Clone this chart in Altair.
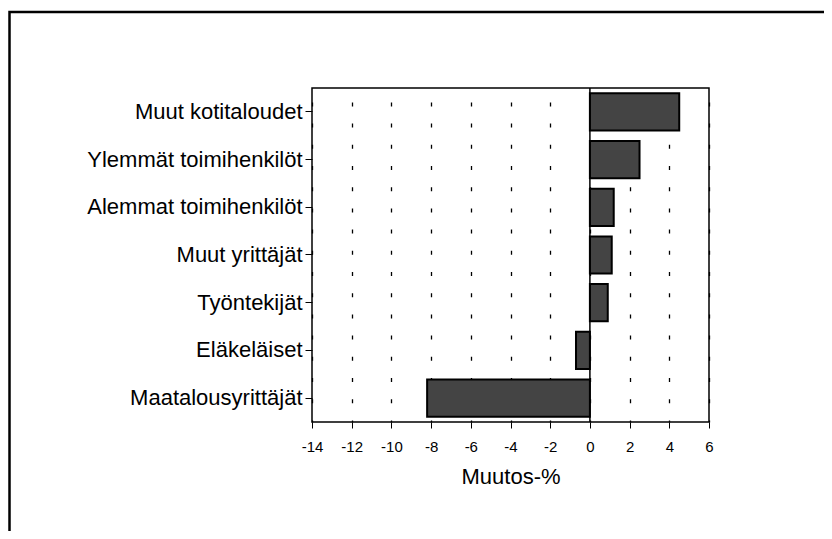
import altair as alt
import pandas as pd

categories = ["Muut kotitaloudet", "Ylemmät toimihenkilöt", "Alemmat toimihenkilöt",
              "Muut yrittäjät", "Työntekijät", "Eläkeläiset", "Maatalousyrittäjät"]
values = [4.5, 2.5, 1.2, 1.1, 0.9, -0.7, -8.2]
x_ticks = [-14, -12, -10, -8, -6, -4, -2, 0, 2, 4, 6]
zero_line = [0]
x_title = "Muutos-%"

df = pd.DataFrame({"group": categories, "change": values})
zero_df = pd.DataFrame({"x": zero_line})
frame_df = pd.DataFrame({"frame": [0]})

FONT = "Liberation Sans"

bars = alt.Chart(df).mark_bar(
    color="#444444", stroke="black", strokeWidth=2
).encode(
    y=alt.Y("group:N", sort=categories,
            scale=alt.Scale(paddingInner=0.22, paddingOuter=0.11),
            axis=alt.Axis(title=None, labelFontSize=22, labelFont=FONT, labelColor="black",
                          tickSize=7, tickColor="black", labelPadding=3, domain=False,
                          grid=False, labelLimit=400)),
    x=alt.X("change:Q", scale=alt.Scale(domain=[-14, 6], nice=False),
            axis=alt.Axis(values=x_ticks, tickCount=len(x_ticks) + 5,
                          title=x_title, titleFontSize=22, titleFont=FONT,
                          titleFontWeight="normal", titleColor="black", titlePadding=12,
                          labelFontSize=15, labelFont=FONT, labelColor="black",
                          labelExpr="'' + datum.value", labelOverlap=False, labelFlush=False,
                          labelPadding=11, tickSize=6, tickColor="black", domain=False,
                          grid=True, gridColor="black", gridWidth=1.3,
                          gridDash=[4, 17.2], gridDashOffset=1.9)),
)

zero = alt.Chart(zero_df).mark_rule(color="black", strokeWidth=1.5).encode(x="x:Q")

frame = alt.Chart(frame_df).mark_rect(
    fillOpacity=0, stroke="black", strokeWidth=2.5
).encode(
    x=alt.value(-302.5), x2=alt.value(700),
    y=alt.value(-76), y2=alt.value(600),
)

chart = alt.layer(frame, bars, zero).properties(
    width=397, height=334,
    autosize=alt.AutoSizeParams(type="none"),
    padding={"left": 304, "top": 80, "right": 115, "bottom": 109},
    background="white",
).configure_view(stroke="black", strokeWidth=1.5)

chart.save("out.html", embed_options={"renderer": "svg", "actions": False})
